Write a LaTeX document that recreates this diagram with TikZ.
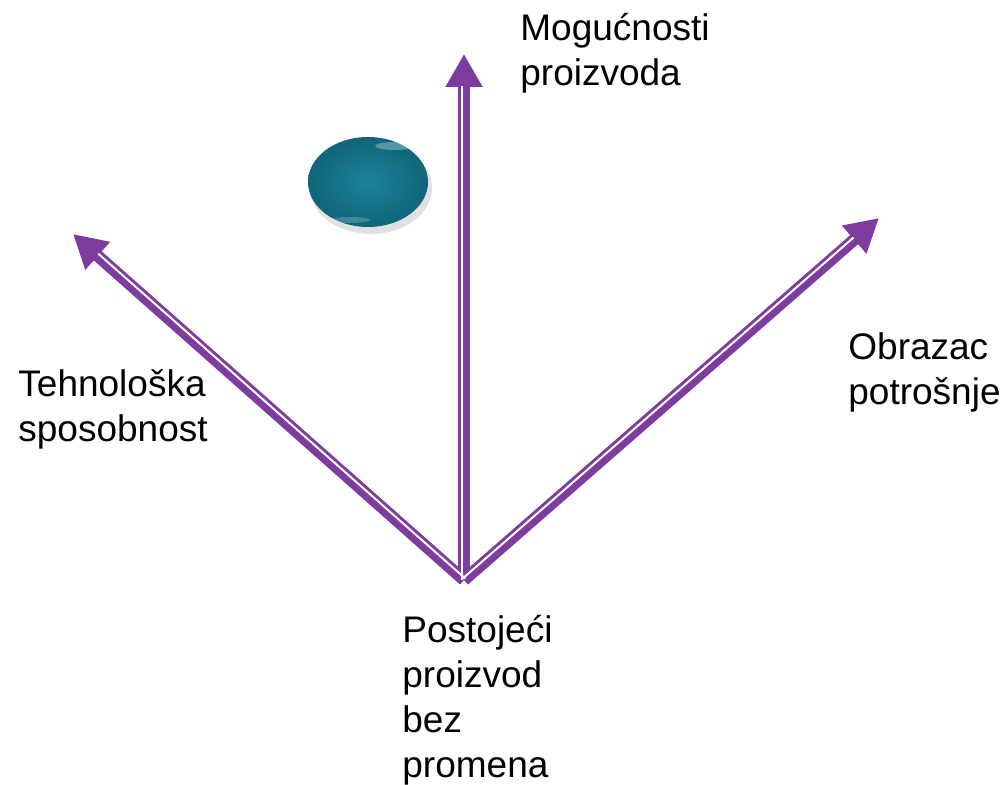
\documentclass[tikz,border=0pt]{standalone}
\usepackage{fontspec}
\setmainfont{Liberation Sans}
\usetikzlibrary{arrows.meta, calc}
\definecolor{axisline}{HTML}{7D3C9E}
\definecolor{dotfill}{HTML}{1A829C}
\definecolor{dotedge}{HTML}{106579}

\begin{document}
\begin{tikzpicture}[
    x=0.5pt, y=-0.5pt,
    axisarrow/.style={
      draw=axisline, line width=6pt,
      -{Triangle[length=16.5pt 0 0, width=17.5pt 0 0]},
    },
    gapline/.style={draw=white, line width=1pt},
    labeltext/.style={
      anchor=base west, inner sep=0pt, align=left,
      font=\fontsize{18.5}{22.5}\selectfont,
    },
  ]
  \useasboundingbox (0,0) rectangle (1007,785);

  % -----------------------------------------------------------
  % Axes from the existing product
  % -----------------------------------------------------------
  \coordinate (base)  at (464, 580);
  \coordinate (tipup) at (464, 54);
  \coordinate (tipl)  at (73, 234);
  \coordinate (tipr)  at (879, 218);

  \draw[axisarrow] (base) -- (tipup);
  \draw[axisarrow] (base) -- (tipl);
  \draw[axisarrow] (base) -- (tipr);

  % thin-thick split of each shaft
  \draw[gapline] ($(base)!1pt!90:(tipup)$)
              -- ($($(tipup)!16pt!(base)$)!1pt!-90:(base)$);
  \draw[gapline] ($(base)!1pt!-90:(tipl)$)
              -- ($($(tipl)!16pt!(base)$)!1pt!90:(base)$);
  \draw[gapline] ($(base)!1pt!90:(tipr)$)
              -- ($($(tipr)!16pt!(base)$)!1pt!-90:(base)$);

  % -----------------------------------------------------------
  % Dot
  % -----------------------------------------------------------
  \fill[black, opacity=0.12] (371, 188) ellipse [x radius=61, y radius=46];
  \shade[inner color=dotfill, outer color=dotedge]
    (368, 182) ellipse [x radius=60, y radius=45];
  \fill[white, opacity=0.3] (395, 146) ellipse [x radius=20, y radius=4];
  \fill[white, opacity=0.2] (350, 220) ellipse [x radius=20, y radius=3];

  % -----------------------------------------------------------
  % Labels (anchored at the baseline of the last line)
  % -----------------------------------------------------------
  \node[labeltext] (lblup)    at (520, 86)  {Mogućnosti\\proizvoda};
  \node[labeltext] (lblleft)  at (18, 442)  {Tehnološka\\sposobnost};
  \node[labeltext] (lblright) at (848, 405) {Obrazac\\potrošnje};
  \node[labeltext] (lblbase)  at (402, 777) {Postojeći\\proizvod\\bez\\promena};

\end{tikzpicture}
\end{document}
